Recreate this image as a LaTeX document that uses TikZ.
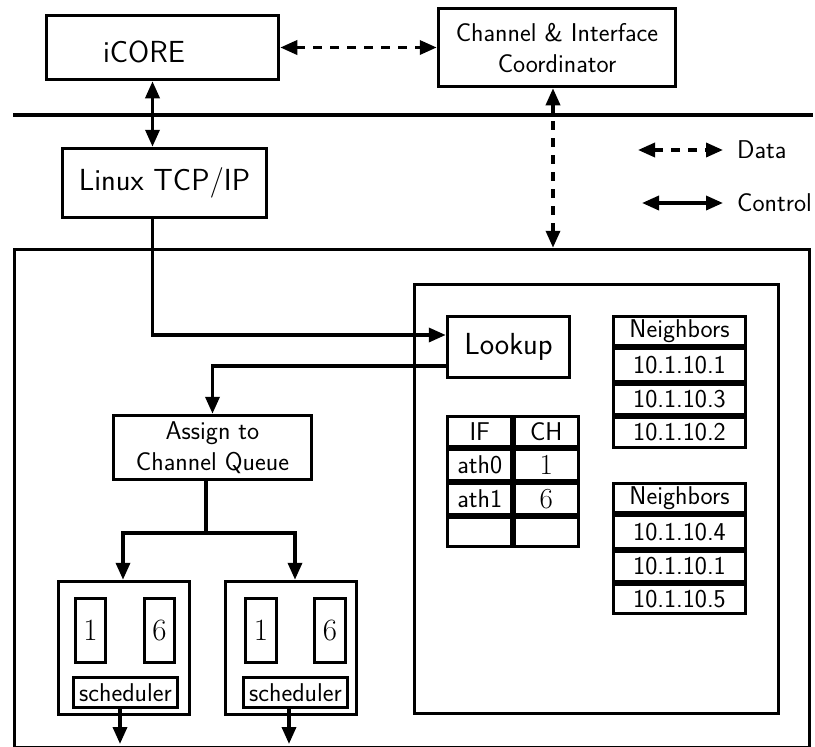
\documentclass[tikz,border=0pt]{standalone}
\usepackage{fontspec}
\usetikzlibrary{arrows.meta}
\begin{document}
\begin{tikzpicture}[x=1pt,y=-1pt,
  lw/.style={line width=3.5pt},
  txt/.style={inner sep=0pt,font=\sffamily\fontsize{25.7}{31}\selectfont,align=center},
  bigtxt/.style={inner sep=0pt,font=\sffamily\fontsize{30.5}{34}\selectfont},
  blk/.style={draw,lw,txt},
  bigblk/.style={draw,lw,bigtxt},
  cell/.style={draw,lw,txt,minimum width=#1},
  num/.style={font=\rmfamily\fontsize{#1}{#1}\selectfont},
  tip/.tip={Triangle[length=17pt,width=14pt]},
  ctrl/.style={lw,tip-tip},
  data/.style={lw,dash pattern=on 9pt off 8pt,tip-tip},
  flow/.style={lw,-tip},
  wire/.style={lw}
]
\useasboundingbox (0,0) rectangle (815,747);

% top level: stack and coordinator
\node[draw,lw,minimum width=232pt,minimum height=64pt] (icore) at (162.5,47.5) {};
\node[bigtxt] (icoretxt) at (144,52) {iCORE};
\node[bigblk,minimum width=204pt,minimum height=69pt] (linux) at (164.5,183) {Linux TCP/IP};
\node[blk,minimum width=237pt,minimum height=78pt] (coord) at (557,47.5) {Channel \& Interface\\Coordinator};

% kernel / user separator
\coordinate (sepl) at (13,115);
\coordinate (sepr) at (813,115);
\draw[wire] (sepl) -- (sepr);

% frames
\node[draw,lw,minimum width=795pt,minimum height=498.5pt] (outer) at (412,498.75) {};
\node[draw,lw,minimum width=364pt,minimum height=429pt] (inner) at (596.5,499) {};

% lookup and queue assignment
\node[bigblk,minimum width=122pt,minimum height=61pt] (lookup) at (508.5,347) {Lookup};
\node[blk,minimum width=198pt,minimum height=64pt] (assign) at (212.5,447.5) {Assign to\\Channel Queue};

% interface / channel table
\node[cell=64.5pt,minimum height=30.5pt] (if0) at (479.75,431.75) {IF};
\node[cell=64.5pt,minimum height=30.5pt] (ch0) at (546.25,431.75) {CH};
\node[cell=64.5pt,minimum height=32pt] (if1) at (479.75,465) {ath0};
\node[cell=64.5pt,minimum height=32pt,num=29] (ch1) at (546.25,465) {1};
\node[cell=64.5pt,minimum height=32pt] (if2) at (479.75,499) {ath1};
\node[cell=64.5pt,minimum height=32pt,num=29] (ch2) at (546.25,499) {6};
\node[cell=64.5pt,minimum height=29.5pt] (if3) at (479.75,531.75) {};
\node[cell=64.5pt,minimum height=29.5pt] (ch3) at (546.25,531.75) {};

% neighbor tables
\node[cell=132pt,minimum height=29.5pt] (na0) at (679.5,331.25) {Neighbors};
\node[cell=132pt,minimum height=34pt] (na1) at (679.5,365) {10.1.10.1};
\node[cell=132pt,minimum height=31pt] (na2) at (679.5,399.5) {10.1.10.3};
\node[cell=132pt,minimum height=30.5pt] (na3) at (679.5,432.25) {10.1.10.2};

\node[cell=132pt,minimum height=29.5pt] (nb0) at (679.5,498.25) {Neighbors};
\node[cell=132pt,minimum height=34pt] (nb1) at (679.5,532) {10.1.10.4};
\node[cell=132pt,minimum height=31pt] (nb2) at (679.5,566.5) {10.1.10.1};
\node[cell=132pt,minimum height=29.5pt] (nb3) at (679.5,598.75) {10.1.10.5};

% channel queues with schedulers
\node[draw,lw,minimum width=131pt,minimum height=133pt] (qa) at (124,648) {};
\node[cell=30pt,minimum height=64pt,num=31] (qa1) at (90.5,630.5) {1};
\node[cell=30pt,minimum height=64pt,num=31] (qa6) at (159.5,630.5) {6};
\node[cell=104pt,minimum height=30pt] (scha) at (125.5,692.5) {scheduler};

\node[draw,lw,minimum width=131pt,minimum height=133pt] (qb) at (291,648) {};
\node[cell=31pt,minimum height=64pt,num=31] (qb1) at (261,630.5) {1};
\node[cell=31pt,minimum height=64pt,num=31] (qb6) at (330,630.5) {6};
\node[cell=104pt,minimum height=30pt] (schb) at (295.5,692.5) {scheduler};

% legend
\node[txt,anchor=west] (datal) at (737,150) {Data};
\node[txt,anchor=west] (ctrll) at (737,203) {Control};
\coordinate (dstart) at (638,150);
\coordinate (cstart) at (642,203);
\draw[data] (dstart) -- ([xshift=-14pt]datal.west);
\draw[ctrl] (cstart) -- ([xshift=-14pt]ctrll.west);

% connectors
\coordinate (xstack) at (152.5,0);
\coordinate (xcoord) at (553,0);
\draw[ctrl] (icore.south -| xstack) -- (linux.north -| xstack);
\draw[data] (icore.east) -- (coord.west);
\draw[data] (coord.south -| xcoord) -- (outer.north -| xcoord);

\draw[flow] (linux.south -| xstack) |- ([yshift=12pt]lookup.west);
\draw[flow] ([yshift=-19pt]lookup.west) -| (assign.north);

\coordinate (split) at (206,533);
\coordinate (xqa) at (123,0);
\coordinate (xqb) at (295,0);
\draw[wire] (assign.south -| split) -- (split);
\draw[flow] (split) -| (qa.north -| xqa);
\draw[flow] (split) -| (qb.north -| xqb);

\coordinate (outa) at (120,744);
\coordinate (outb) at (289,744);
\draw[flow] (scha.south -| outa) -- (outa);
\draw[flow] (schb.south -| outb) -- (outb);
\end{tikzpicture}
\end{document}
